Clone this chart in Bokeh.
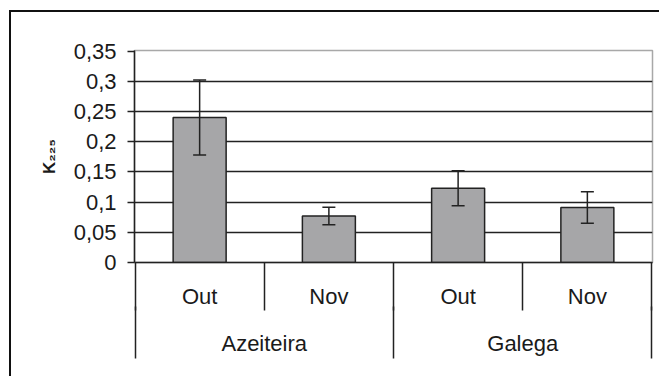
from bokeh.plotting import figure
from bokeh.models import (FixedTicker, ColumnDataSource, Whisker,
                          TeeHead, Range1d, LinearAxis)
from bokeh.embed import file_html
from bokeh.resources import INLINE

# ---- data ----
groups = ["Azeiteira", "Galega"]
months = ["Out", "Nov"]
k225 = [0.240, 0.077, 0.123, 0.091]
k225_err = [0.062, 0.0145, 0.029, 0.026]
y_ticks = [0, 0.05, 0.1, 0.15, 0.2, 0.25, 0.3, 0.35]
y_tick_labels = ["0", "0,05", "0,1", "0,15", "0,2", "0,25", "0,3", "0,35"]
y_title = "K\u2082\u2082\u2085"

factors = [(g, m) for g in groups for m in months]

FONT = "Liberation Sans"
TXT = "#1a1a1a"
LINE = "#222222"
PAD = 0.004

n = len(factors)
sub_centers = [i + 0.5 for i in range(n)]
sub_bounds = [float(i) for i in range(n + 1)]
per_group = len(months)
group_centers = [g * per_group + per_group / 2 for g in range(len(groups))]
group_bounds = [float(g * per_group) for g in range(len(groups) + 1)]

p = figure(width=650, height=366,
           x_range=Range1d(-PAD, n + PAD),
           y_range=Range1d(y_ticks[0], y_ticks[-1] + 0.001),
           x_axis_location=None,
           output_backend="svg", toolbar_location=None,
           min_border_left=123, min_border_top=38, min_border_right=9, min_border_bottom=116)
p.styles = {"margin-left": "9px", "margin-top": "10px",
            "border-left": "2px solid #111111", "border-top": "2px solid #111111"}
p.outline_line_color = "#a8a8a8"
p.outline_line_width = 1.5
p.background_fill_color = "white"
p.border_fill_color = "white"

# y axis
ax = p.yaxis[0]
ax.ticker = FixedTicker(ticks=y_ticks)
ax.major_label_overrides = {float(t): l for t, l in zip(y_ticks, y_tick_labels)}
ax.axis_line_color = LINE
ax.axis_line_width = 1.5
ax.major_tick_line_color = LINE
ax.major_tick_line_width = 1.5
ax.major_tick_out = 7
ax.major_tick_in = 0
ax.minor_tick_line_color = None
ax.major_label_standoff = 11
ax.major_label_text_font = FONT
ax.major_label_text_font_size = "22px"
ax.major_label_text_color = TXT
ax.axis_label = y_title
ax.axis_label_text_font = FONT
ax.axis_label_text_font_style = "bold"
ax.axis_label_text_font_size = "17px"
ax.axis_label_text_color = TXT
ax.axis_label_standoff = 12

# grid
p.ygrid.ticker = FixedTicker(ticks=y_ticks[:-1])
p.ygrid.grid_line_color = LINE
p.ygrid.grid_line_width = 1.5
p.xgrid.visible = False

# category axes (sub level and group level); separators are minor ticks
sub_axis = LinearAxis(ticker=FixedTicker(ticks=sub_centers, minor_ticks=sub_bounds),
                      major_label_overrides={c: f[1] for c, f in zip(sub_centers, factors)},
                      axis_line_color=LINE, axis_line_width=1.5,
                      major_tick_line_color=None, major_tick_out=0, major_tick_in=0,
                      minor_tick_line_color=LINE, minor_tick_line_width=1.5,
                      minor_tick_out=0, minor_tick_in=-48,
                      major_label_standoff=21,
                      major_label_text_font=FONT, major_label_text_font_size="22px",
                      major_label_text_color=TXT)
grp_axis = LinearAxis(ticker=FixedTicker(ticks=group_centers, minor_ticks=group_bounds),
                      major_label_overrides={c: g for c, g in zip(group_centers, groups)},
                      axis_line_color=None,
                      major_tick_line_color=None, major_tick_out=0, major_tick_in=0,
                      minor_tick_line_color=LINE, minor_tick_line_width=1.5,
                      minor_tick_out=-5, minor_tick_in=-47,
                      major_label_standoff=19,
                      major_label_text_font=FONT, major_label_text_font_size="22px",
                      major_label_text_color=TXT)
p.add_layout(sub_axis, "below")
p.add_layout(grp_axis, "below")

src = ColumnDataSource(dict(
    x=sub_centers, top=k225,
    upper=[v + e for v, e in zip(k225, k225_err)],
    lower=[v - e for v, e in zip(k225, k225_err)],
))

p.vbar(x="x", top="top", width=0.41, source=src, fill_color="#a6a6a8",
       line_color=LINE, line_width=1.5)

w = Whisker(base="x", upper="upper", lower="lower", source=src,
            line_color=LINE, line_width=1.5, level="annotation",
            upper_head=TeeHead(size=13, line_color=LINE, line_width=1.5),
            lower_head=TeeHead(size=13, line_color=LINE, line_width=1.5))
p.add_layout(w)

open("out.html", "w").write(file_html(p, INLINE))
